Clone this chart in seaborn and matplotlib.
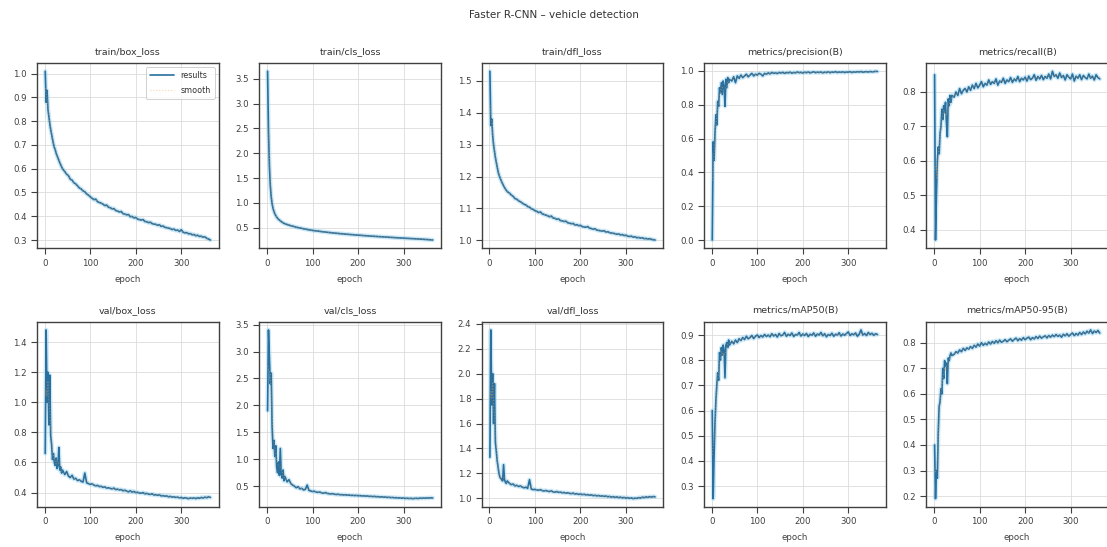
import matplotlib
matplotlib.use("Agg")
import matplotlib.pyplot as plt
from matplotlib.ticker import MultipleLocator
import numpy as np
import pandas as pd
import seaborn as sns

# Epochs at which the training log was sampled
epoch = list(range(1, 40, 2)) + list(range(44, 365, 4))

train_box_loss = [
    1.01, 0.88, 0.93, 0.85, 0.82, 0.79, 0.765, 0.745, 0.725, 0.705,
    0.69, 0.68, 0.665, 0.655, 0.645, 0.635, 0.625, 0.617, 0.608, 0.60,
    0.588, 0.577, 0.571, 0.556, 0.552, 0.541, 0.536, 0.528, 0.519, 0.515,
    0.507, 0.503, 0.494, 0.489, 0.482, 0.476, 0.470, 0.472, 0.461, 0.458,
    0.455, 0.451, 0.445, 0.447, 0.438, 0.436, 0.431, 0.432, 0.424, 0.422,
    0.418, 0.420, 0.411, 0.409, 0.406, 0.407, 0.398, 0.399, 0.393, 0.395,
    0.388, 0.386, 0.384, 0.386, 0.378, 0.377, 0.373, 0.375, 0.369, 0.367,
    0.366, 0.362, 0.364, 0.357, 0.359, 0.353, 0.352, 0.350, 0.348, 0.344,
    0.346, 0.340, 0.342, 0.336, 0.343, 0.333, 0.330, 0.331, 0.326, 0.327,
    0.322, 0.323, 0.318, 0.320, 0.315, 0.316, 0.312, 0.313, 0.307, 0.304,
    0.300,
]

train_cls_loss = [
    3.65, 2.45, 1.75, 1.35, 1.12, 0.98, 0.89, 0.83, 0.78, 0.745,
    0.715, 0.69, 0.67, 0.655, 0.64, 0.625, 0.612, 0.60, 0.59, 0.58,
    0.565, 0.553, 0.541, 0.532, 0.522, 0.511, 0.503, 0.496, 0.488, 0.479,
    0.472, 0.466, 0.457, 0.452, 0.446, 0.441, 0.436, 0.433, 0.427, 0.421,
    0.418, 0.413, 0.409, 0.404, 0.401, 0.396, 0.393, 0.389, 0.386, 0.381,
    0.379, 0.376, 0.371, 0.369, 0.366, 0.362, 0.360, 0.356, 0.353, 0.351,
    0.348, 0.346, 0.342, 0.340, 0.337, 0.335, 0.331, 0.330, 0.327, 0.325,
    0.322, 0.320, 0.318, 0.315, 0.313, 0.311, 0.308, 0.306, 0.304, 0.301,
    0.299, 0.297, 0.295, 0.292, 0.291, 0.288, 0.286, 0.284, 0.282, 0.280,
    0.278, 0.276, 0.274, 0.271, 0.269, 0.267, 0.264, 0.262, 0.259, 0.256,
    0.253,
]

train_dfl_loss = [
    1.53, 1.36, 1.38, 1.33, 1.30, 1.28, 1.26, 1.245, 1.23, 1.215,
    1.205, 1.197, 1.19, 1.183, 1.177, 1.171, 1.166, 1.161, 1.157, 1.153,
    1.148, 1.142, 1.138, 1.131, 1.129, 1.124, 1.121, 1.117, 1.113, 1.111,
    1.106, 1.104, 1.099, 1.097, 1.093, 1.091, 1.087, 1.089, 1.083, 1.081,
    1.079, 1.077, 1.074, 1.076, 1.070, 1.069, 1.066, 1.067, 1.062, 1.061,
    1.059, 1.060, 1.055, 1.054, 1.052, 1.053, 1.048, 1.049, 1.046, 1.047,
    1.043, 1.042, 1.041, 1.043, 1.038, 1.037, 1.035, 1.036, 1.032, 1.031,
    1.030, 1.029, 1.030, 1.026, 1.027, 1.024, 1.023, 1.022, 1.021, 1.019,
    1.020, 1.017, 1.018, 1.015, 1.016, 1.013, 1.012, 1.013, 1.010, 1.011,
    1.008, 1.009, 1.007, 1.008, 1.005, 1.006, 1.004, 1.005, 1.003, 1.002,
    1.001,
]

precision = [
    0.00, 0.58, 0.47, 0.63, 0.74, 0.68, 0.82, 0.79, 0.90, 0.87,
    0.93, 0.86, 0.94, 0.91, 0.79, 0.95, 0.90, 0.96, 0.93, 0.95,
    0.94, 0.965, 0.93, 0.97, 0.955, 0.975, 0.96, 0.97, 0.98, 0.965,
    0.975, 0.985, 0.97, 0.98, 0.975, 0.985, 0.98, 0.97, 0.985, 0.98,
    0.988, 0.982, 0.99, 0.985, 0.988, 0.984, 0.99, 0.987, 0.991, 0.985,
    0.99, 0.988, 0.992, 0.986, 0.99, 0.988, 0.993, 0.989, 0.991, 0.987,
    0.992, 0.989, 0.993, 0.988, 0.991, 0.994, 0.989, 0.992, 0.99, 0.993,
    0.988, 0.992, 0.99, 0.994, 0.989, 0.993, 0.991, 0.995, 0.99, 0.993,
    0.991, 0.994, 0.99, 0.993, 0.992, 0.995, 0.99, 0.994, 0.992, 0.995,
    0.993, 0.996, 0.992, 0.994, 0.995, 0.993, 0.996, 0.994, 0.995, 0.997,
    0.996,
]

recall = [
    0.85, 0.37, 0.50, 0.60, 0.64, 0.62, 0.68, 0.70, 0.75, 0.72,
    0.76, 0.74, 0.77, 0.71, 0.67, 0.78, 0.76, 0.79, 0.77, 0.79,
    0.785, 0.80, 0.79, 0.81, 0.795, 0.805, 0.81, 0.80, 0.815, 0.805,
    0.82, 0.81, 0.825, 0.812, 0.82, 0.83, 0.815, 0.825, 0.82, 0.835,
    0.822, 0.83, 0.825, 0.838, 0.82, 0.832, 0.828, 0.84, 0.825, 0.835,
    0.83, 0.842, 0.828, 0.838, 0.832, 0.845, 0.83, 0.84, 0.835, 0.843,
    0.832, 0.846, 0.836, 0.84, 0.85, 0.834, 0.845, 0.838, 0.848, 0.836,
    0.845, 0.84, 0.852, 0.838, 0.86, 0.845, 0.85, 0.84, 0.855, 0.842,
    0.848, 0.835, 0.85, 0.843, 0.838, 0.852, 0.832, 0.846, 0.84, 0.85,
    0.836, 0.848, 0.842, 0.838, 0.852, 0.84, 0.846, 0.835, 0.85, 0.842,
    0.838,
]

val_box_loss = [
    0.66, 1.48, 1.00, 1.20, 0.85, 1.18, 0.78, 0.72, 0.62, 0.66,
    0.60, 0.58, 0.63, 0.56, 0.58, 0.70, 0.55, 0.57, 0.53, 0.55,
    0.52, 0.54, 0.51, 0.50, 0.515, 0.49, 0.495, 0.48, 0.485, 0.475,
    0.47, 0.53, 0.465, 0.46, 0.455, 0.458, 0.45, 0.445, 0.448, 0.44,
    0.442, 0.435, 0.438, 0.43, 0.432, 0.428, 0.425, 0.43, 0.42, 0.423,
    0.418, 0.42, 0.412, 0.416, 0.41, 0.405, 0.412, 0.403, 0.408, 0.40,
    0.402, 0.398, 0.396, 0.40, 0.392, 0.395, 0.39, 0.388, 0.392, 0.384,
    0.386, 0.382, 0.385, 0.378, 0.38, 0.376, 0.378, 0.372, 0.375, 0.37,
    0.372, 0.368, 0.37, 0.365, 0.368, 0.362, 0.366, 0.363, 0.36, 0.364,
    0.362, 0.365, 0.36, 0.366, 0.362, 0.368, 0.364, 0.37, 0.366, 0.372,
    0.368,
]

val_cls_loss = [
    1.90, 3.40, 2.90, 2.40, 2.60, 1.60, 1.20, 1.35, 1.05, 1.25,
    0.85, 0.75, 0.95, 0.70, 1.20, 0.72, 0.65, 0.80, 0.60, 0.68,
    0.58, 0.62, 0.55, 0.52, 0.50, 0.47, 0.49, 0.45, 0.46, 0.43,
    0.44, 0.52, 0.42, 0.41, 0.40, 0.405, 0.39, 0.385, 0.39, 0.375,
    0.37, 0.38, 0.365, 0.36, 0.355, 0.36, 0.35, 0.345, 0.35, 0.34,
    0.342, 0.336, 0.34, 0.332, 0.335, 0.328, 0.33, 0.325, 0.328, 0.322,
    0.325, 0.318, 0.32, 0.315, 0.318, 0.31, 0.312, 0.306, 0.31, 0.303,
    0.305, 0.298, 0.302, 0.295, 0.298, 0.29, 0.294, 0.287, 0.29, 0.283,
    0.286, 0.28, 0.283, 0.276, 0.28, 0.272, 0.276, 0.27, 0.274, 0.268,
    0.272, 0.275, 0.27, 0.278, 0.274, 0.28, 0.276, 0.282, 0.278, 0.284,
    0.28,
]

val_dfl_loss = [
    1.33, 2.35, 1.75, 2.00, 1.60, 1.92, 1.45, 1.38, 1.30, 1.25,
    1.20, 1.17, 1.16, 1.15, 1.14, 1.27, 1.15, 1.13, 1.12, 1.14,
    1.12, 1.11, 1.115, 1.10, 1.105, 1.095, 1.10, 1.09, 1.085, 1.09,
    1.08, 1.15, 1.075, 1.07, 1.072, 1.068, 1.065, 1.07, 1.062, 1.06,
    1.063, 1.058, 1.055, 1.06, 1.052, 1.05, 1.055, 1.048, 1.05, 1.045,
    1.047, 1.042, 1.045, 1.04, 1.038, 1.042, 1.035, 1.038, 1.032, 1.035,
    1.03, 1.033, 1.028, 1.03, 1.025, 1.028, 1.022, 1.025, 1.02, 1.023,
    1.018, 1.02, 1.016, 1.019, 1.013, 1.016, 1.01, 1.014, 1.008, 1.012,
    1.006, 1.01, 1.004, 1.008, 1.002, 1.006, 1.0, 1.004, 0.998, 1.002,
    1.0, 1.006, 1.003, 1.01, 1.006, 1.012, 1.008, 1.014, 1.01, 1.015,
    1.012,
]

map50 = [
    0.60, 0.25, 0.42, 0.55, 0.64, 0.70, 0.75, 0.72, 0.83, 0.80,
    0.85, 0.82, 0.86, 0.84, 0.73, 0.86, 0.87, 0.85, 0.88, 0.86,
    0.875, 0.865, 0.88, 0.87, 0.885, 0.878, 0.89, 0.882, 0.895, 0.885,
    0.89, 0.898, 0.886, 0.895, 0.90, 0.89, 0.898, 0.892, 0.902, 0.894,
    0.90, 0.893, 0.905, 0.896, 0.902, 0.892, 0.906, 0.897, 0.90, 0.91,
    0.895, 0.903, 0.898, 0.908, 0.894, 0.902, 0.90, 0.91, 0.896, 0.904,
    0.898, 0.906, 0.894, 0.903, 0.899, 0.908, 0.895, 0.904, 0.90, 0.91,
    0.897, 0.905, 0.893, 0.902, 0.898, 0.907, 0.895, 0.903, 0.90, 0.909,
    0.896, 0.904, 0.899, 0.906, 0.912, 0.898, 0.905, 0.901, 0.908, 0.895,
    0.903, 0.92, 0.90, 0.906, 0.898, 0.91, 0.902, 0.907, 0.899, 0.905,
    0.902,
]

map50_95 = [
    0.40, 0.19, 0.30, 0.27, 0.45, 0.55, 0.57, 0.62, 0.60, 0.70,
    0.66, 0.73, 0.71, 0.72, 0.64, 0.74, 0.73, 0.75, 0.76, 0.75,
    0.755, 0.765, 0.76, 0.772, 0.765, 0.778, 0.77, 0.78, 0.775, 0.785,
    0.778, 0.79, 0.783, 0.795, 0.787, 0.80, 0.79, 0.798, 0.792, 0.803,
    0.795, 0.805, 0.798, 0.808, 0.80, 0.81, 0.802, 0.806, 0.812, 0.804,
    0.81, 0.815, 0.806, 0.813, 0.818, 0.808, 0.816, 0.81, 0.82, 0.812,
    0.818, 0.822, 0.812, 0.82, 0.815, 0.824, 0.817, 0.826, 0.818, 0.823,
    0.827, 0.819, 0.828, 0.822, 0.83, 0.824, 0.832, 0.825, 0.83, 0.822,
    0.833, 0.827, 0.835, 0.826, 0.832, 0.838, 0.828, 0.836, 0.83, 0.84,
    0.832, 0.842, 0.835, 0.845, 0.838, 0.85, 0.836, 0.846, 0.84, 0.848,
    0.838,
]

titles = [
    "train/box_loss", "train/cls_loss", "train/dfl_loss",
    "metrics/precision(B)", "metrics/recall(B)",
    "val/box_loss", "val/cls_loss", "val/dfl_loss",
    "metrics/mAP50(B)", "metrics/mAP50-95(B)",
]
series = [
    train_box_loss, train_cls_loss, train_dfl_loss, precision, recall,
    val_box_loss, val_cls_loss, val_dfl_loss, map50, map50_95,
]
y_steps = [0.1, 0.5, 0.1, 0.2, 0.1, 0.2, 0.5, 0.2, 0.1, 0.1]

sns.set_theme(style="whitegrid", rc={
    "axes.edgecolor": "#404040",
    "axes.linewidth": 1.0,
    "grid.color": "#dcdcdc",
    "grid.linewidth": 0.6,
    "xtick.bottom": True,
    "ytick.left": True,
    "xtick.major.size": 4,
    "ytick.major.size": 4,
    "xtick.major.width": 0.8,
    "ytick.major.width": 0.8,
    "xtick.color": "#404040",
    "ytick.color": "#404040",
    "xtick.labelsize": 6.2,
    "ytick.labelsize": 6.2,
    "axes.labelsize": 6.2,
    "axes.titlesize": 6.8,
    "axes.labelcolor": "#404040",
    "text.color": "#333333",
})
plt.rcParams["font.family"] = ["DejaVu Sans"]

fig, axes = plt.subplots(
    2, 5, figsize=(11.07, 5.47), dpi=100,
    gridspec_kw=dict(left=0.0334, right=1.0009, top=0.885, bottom=0.073,
                     wspace=0.224, hspace=0.394),
)

results_color = "#2a6f9e"
halo_color = "#8fd0f0"
smooth_color = "#f5a04a"

for i, ax in enumerate(axes.flat):
    df = pd.DataFrame({"epoch": epoch, "value": series[i]})
    df["smooth"] = df["value"].rolling(5, center=True, min_periods=1).mean()
    first = i == 0
    # soft light-blue band under the main trace
    sns.lineplot(data=df, x="epoch", y="value", ax=ax, color=halo_color,
                 linewidth=3.2, alpha=0.45, legend=False)
    sns.lineplot(data=df, x="epoch", y="value", ax=ax, color=results_color,
                 linewidth=1.2, label="results" if first else None)
    sns.lineplot(data=df, x="epoch", y="smooth", ax=ax, color=smooth_color,
                 linewidth=0.8, linestyle=":", alpha=0.45,
                 label="smooth" if first else None)
    ax.set_title(titles[i], pad=6)
    ax.set_xlabel("epoch", labelpad=5)
    ax.set_ylabel("")
    ax.xaxis.set_major_locator(MultipleLocator(100))
    ax.yaxis.set_major_locator(MultipleLocator(y_steps[i]))
    ax.tick_params(pad=3.5)
    for s in ax.spines.values():
        s.set_visible(True)
    if first:
        handles, labels = ax.get_legend_handles_labels()
        leg = ax.legend(handles[-2:], labels[-2:], loc="upper right",
                        fontsize=5.8, frameon=True, handlelength=3.0,
                        borderpad=0.5, labelspacing=0.7)
        leg.get_frame().set_linewidth(0.6)
        leg.get_frame().set_edgecolor("#bbbbbb")
    elif ax.get_legend() is not None:
        ax.get_legend().remove()

fig.suptitle("Faster R-CNN – vehicle detection", fontsize=7.5, y=0.982,
             color="#333333")

fig.savefig("out.png", dpi=100, facecolor="white")
